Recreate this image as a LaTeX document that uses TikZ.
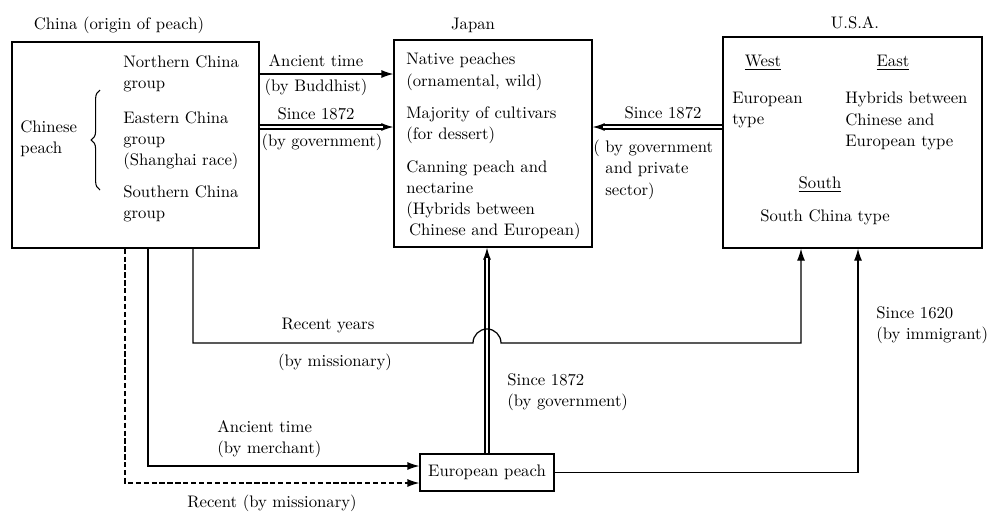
\documentclass[tikz,border=0pt]{standalone}
\usetikzlibrary{arrows.meta}
\usetikzlibrary{decorations.pathreplacing}
\tikzstyle{arrow} = [line width=0.7pt,-{Latex[length=2.4mm,width=1.6mm]}]
\tikzstyle{dbl} = [line width=0.7pt,double,double distance=1.6pt,shorten >=2mm]
\tikzstyle{box} = [draw,line width=0.7pt,inner sep=0pt]
\tikzstyle{txt} = [align=left,anchor=north west,inner sep=0pt]

\begin{document}
\begin{tikzpicture}[x=0.2mm,y=-0.2mm,font=\fontsize{9.5}{12}\selectfont]
\useasboundingbox (0,0) rectangle (993,511);

% boxes
\node[box,minimum width=49.4mm,minimum height=41.2mm] (china) at (135.5,145) {};
\node[box,minimum width=39.6mm,minimum height=41.4mm] (japan) at (493,143.5) {};
\node[box,minimum width=51.8mm,minimum height=42.2mm] (usa) at (852.5,142.5) {};
\node[box,minimum width=26.8mm,minimum height=7.4mm] (euro) at (487,472.5) {European peach};

\node (chinatitle) at (119,25) {China (origin of peach)};
\node (japantitle) at (473,25) {Japan};
\node (usatitle) at (855,23) {U.S.A.};

% China
\node[txt] (chinese) at (20,120) {Chinese\\peach};
\draw[line width=0.6pt,decorate,decoration={brace,amplitude=5pt}] (100,190) -- (100,90);
\node[txt] (north) at (123,55) {Northern China\\group};
\node[txt] (east) at (123,111) {Eastern China\\group\\(Shanghai race)};
\node[txt] (south) at (123,185) {Southern China\\group};

% Japan
\node[txt] (native) at (406,53) {Native peaches\\(ornamental, wild)};
\node[txt] (major) at (406,106) {Majority of cultivars\\(for dessert)};
\node[txt] (canning) at (406,160) {Canning peach and\\nectarine\\(Hybrids between\\\,Chinese and European)};

% U.S.A.
\node (west) at (763,63) {\underline{West}};
\node (eastus) at (893,63) {\underline{East}};
\node[txt] (eutype) at (732,92) {European\\type};
\node[txt] (hybrid) at (845,92) {Hybrids between\\Chinese and\\European type};
\node (southus) at (820,185) {\underline{South}};
\node (sctype) at (825,217) {South China type};

% arrows
\coordinate (y1) at (0,74);
\coordinate (y2) at (0,127);
\coordinate (hop) at (487,343);
\draw[arrow] (china.east |- y1) -- (japan.west |- y1);
\draw[arrow] (china.east |- y2) -- (japan.west |- y2);
\draw[dbl] (china.east |- y2) -- (japan.west |- y2);
\draw[arrow] (usa.west |- y2) -- (japan.east |- y2);
\draw[dbl] (usa.west |- y2) -- (japan.east |- y2);
\draw[arrow] (euro.north) -- (euro.north |- japan.south);
\draw[dbl] (euro.north) -- (euro.north |- japan.south);
\draw[arrow] (euro.east) -| ([xshift=1.1mm]usa.south);
\draw[arrow] ([xshift=11.5mm]china.south) |- ([xshift=-2.8mm]hop)
  arc[start angle=180,end angle=0,radius=2.8mm] -| ([xshift=-10.3mm]usa.south);
\draw[arrow] ([xshift=2.5mm]china.south) |- ([yshift=1.3mm]euro.west);
\draw[arrow,dash pattern=on 3pt off 1.5pt] ([xshift=-2.1mm]china.south) |- ([yshift=-2.1mm]euro.west);

% labels
\node (l1) at (316,61) {Ancient time};
\node (l2) at (316,87) {(by Buddhist)};
\node (l3) at (316,114) {Since 1872};
\node (l4) at (322,142) {(by government)};
\node (l5) at (663,113) {Since 1872};
\node[txt] (l6) at (593,140) {(\ by government\\\hphantom{(}\ and private\\\hphantom{(}\ sector)};
\node (l7) at (328,325) {Recent years};
\node (l8) at (335,362) {(by missionary)};
\node[txt] (l9) at (507,373) {Since 1872\\(by government)};
\node[txt] (l10) at (876,306) {Since 1620\\(by immigrant)};
\node[txt] (l11) at (217,420) {Ancient time\\(by merchant)};
\node (l12) at (272,503) {Recent (by missionary)};
\end{tikzpicture}
\end{document}
